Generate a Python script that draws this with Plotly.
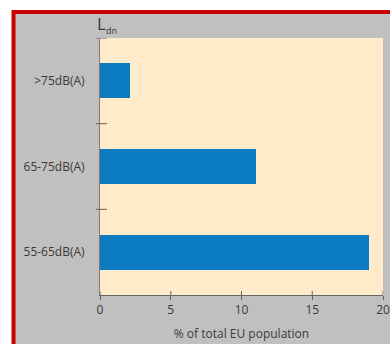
import plotly.graph_objects as go

# Share of total EU population exposed to each Lden road-noise band
categories = ["55-65dB(A)", "65-75dB(A)", ">75dB(A)"]
population_pct = [19.0, 11.0, 2.1]
x_ticks = [0, 5, 10, 15, 20]
band_edges = [0.5, 1.5, 2.5]

W, H = 390, 344
L, R, T, B = 100, 7, 38, 49
pw, ph = W - L - R, H - T - B


def paper_x(p):
    return (p - L) / pw


def paper_y(p):
    return 1 - (p - T) / ph


GRAY = "#c0c0c0"
CREAM = "#ffebc9"
BLUE = "#0a7bc1"
RED = "#c80000"
INK = "#3a3a3a"
AXIS = "#666666"
FONT = dict(family="Open Sans", size=12, color=INK)

fig = go.Figure(
    go.Bar(
        x=population_pct,
        y=categories,
        orientation="h",
        width=0.41,
        marker=dict(color=BLUE, line=dict(width=0)),
        hoverinfo="skip",
    )
)

fig.update_layout(
    width=W,
    height=H,
    margin=dict(l=L, r=R, t=T, b=B, pad=0, autoexpand=False),
    paper_bgcolor="white",
    plot_bgcolor="rgba(0,0,0,0)",
    showlegend=False,
    font=FONT,
    bargap=0,
    xaxis=dict(
        range=[0, 20],
        tickvals=x_ticks,
        ticks="outside",
        ticklen=4,
        tickcolor=AXIS,
        showline=True,
        linecolor=AXIS,
        linewidth=1,
        showgrid=False,
        zeroline=False,
        automargin=False,
        tickfont=dict(size=12, color=INK),
        title=dict(text="% of total EU population", font=dict(size=12, color=INK), standoff=12),
    ),
    yaxis=dict(
        type="category",
        categoryorder="array",
        categoryarray=categories,
        range=[-0.5, 2.5],
        ticks="",
        showline=True,
        linecolor="#8a7a6a",
        linewidth=1,
        showgrid=False,
        zeroline=False,
        automargin=False,
        ticklabelstandoff=12,
        tickfont=dict(size=12, color=INK),
    ),
)

# Gray panel with red frame, then the cream plotting area on top of it
fig.add_shape(
    type="rect", xref="paper", yref="paper", layer="below",
    x0=paper_x(13.5), x1=paper_x(W + 20), y0=paper_y(H + 20), y1=paper_y(12),
    fillcolor=GRAY, line=dict(color=RED, width=4),
)
fig.add_shape(
    type="rect", xref="paper", yref="paper", layer="below",
    x0=0, x1=1, y0=0, y1=1, fillcolor=CREAM, line=dict(width=0),
)

# Inner halves of the crossing ticks on the value axis
for tick in x_ticks:
    fig.add_shape(
        type="line", xref="x", yref="paper", layer="above",
        x0=tick, x1=tick, y0=0, y1=paper_y(H - B - 4),
        line=dict(color=AXIS, width=1),
    )

# Short crossing ticks on the band boundaries of the category axis
for edge in band_edges:
    fig.add_shape(
        type="line", xref="paper", yref="y", layer="above",
        x0=paper_x(96), x1=paper_x(107), y0=edge, y1=edge,
        line=dict(color=AXIS, width=1),
    )

fig.add_annotation(
    text="L<sub><span style='font-size:9px'>dn</span></sub>",
    xref="paper", yref="paper",
    x=paper_x(95), y=paper_y(25), xanchor="left", yanchor="middle",
    showarrow=False, font=dict(family="Open Sans", size=17, color=INK),
)

fig.write_html("out.html")
